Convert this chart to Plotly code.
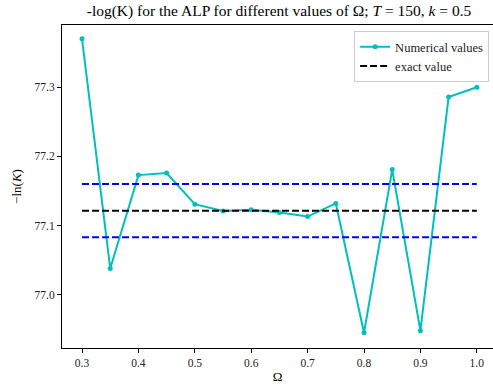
import plotly.graph_objects as go

omega = [0.3, 0.35, 0.4, 0.45, 0.5, 0.55, 0.6, 0.65, 0.7, 0.75, 0.8, 0.85, 0.9, 0.95, 1.0]
neg_log_k = [77.370, 77.038, 77.173, 77.176, 77.131, 77.121, 77.123, 77.119, 77.113, 77.132,
             76.945, 77.181, 76.948, 77.286, 77.300]
exact_value = 77.1216
upper_bound = 77.160
lower_bound = 77.083
x_ticks = [0.3, 0.4, 0.5, 0.6, 0.7, 0.8, 0.9, 1.0]
x_tick_labels = ["0.3", "0.4", "0.5", "0.6", "0.7", "0.8", "0.9", "1.0"]
y_ticks = [77.0, 77.1, 77.2, 77.3]
y_tick_labels = ["77.0", "77.1", "77.2", "77.3"]

FONT = "DejaVu Serif, Liberation Serif, serif"
TFONT = "Liberation Serif, DejaVu Serif, serif"
x_span = [min(omega), max(omega)]

fig = go.Figure()
fig.add_trace(go.Scatter(
    x=omega, y=neg_log_k, mode="lines+markers", name="Numerical values",
    line=dict(color="#00BFBF", width=2), marker=dict(color="#00BFBF", size=5)))
fig.add_trace(go.Scatter(
    x=x_span, y=[exact_value, exact_value], mode="lines", name="exact value",
    line=dict(color="black", width=2, dash="7px,3px")))
fig.add_trace(go.Scatter(
    x=x_span, y=[upper_bound, upper_bound], mode="lines", showlegend=False,
    line=dict(color="#0000FF", width=2, dash="7px,3px")))
fig.add_trace(go.Scatter(
    x=x_span, y=[lower_bound, lower_bound], mode="lines", showlegend=False,
    line=dict(color="#0000FF", width=2, dash="7px,3px")))

fig.update_layout(
    width=493, height=388,
    margin=dict(l=62, r=0, t=25, b=40),
    paper_bgcolor="white", plot_bgcolor="white",
    font=dict(family=TFONT, size=11, color="black"),
    title=dict(text="-log(K) for the ALP for different values of Ω; <i>T</i> = 150, <i>k</i> = 0.5",
               x=0.566, xanchor="center", y=0.972, yanchor="middle",
               font=dict(family=TFONT, size=15.5, color="black")),
    showlegend=True,
    legend=dict(x=0.991, y=0.981, xanchor="right", yanchor="top",
                bgcolor="white", bordercolor="#cccccc", borderwidth=1,
                font=dict(family=TFONT, size=12.5, color="#222222"), tracegroupgap=0,
                itemwidth=30),
)
fig.update_xaxes(
    range=[0.2645, 1.0287], tickvals=x_ticks, ticktext=x_tick_labels,
    showgrid=False, zeroline=False, showline=True, linecolor="black", linewidth=1,
    mirror=True, ticks="outside", ticklen=4, tickcolor="black",
    title=dict(text="Ω", standoff=4, font=dict(family=TFONT, size=13)),
    tickfont=dict(family=TFONT, size=11.5, color="#222222"))
fig.update_yaxes(
    range=[76.923, 77.390], tickvals=y_ticks, ticktext=y_tick_labels,
    showgrid=False, zeroline=False, showline=True, linecolor="black", linewidth=1,
    ticks="outside", ticklen=4, tickcolor="black",
    title=dict(text="−ln(<i>K</i>)", standoff=10, font=dict(family=TFONT, size=13)),
    tickfont=dict(family=TFONT, size=11.5, color="#222222"))

fig.write_html("out.html")
